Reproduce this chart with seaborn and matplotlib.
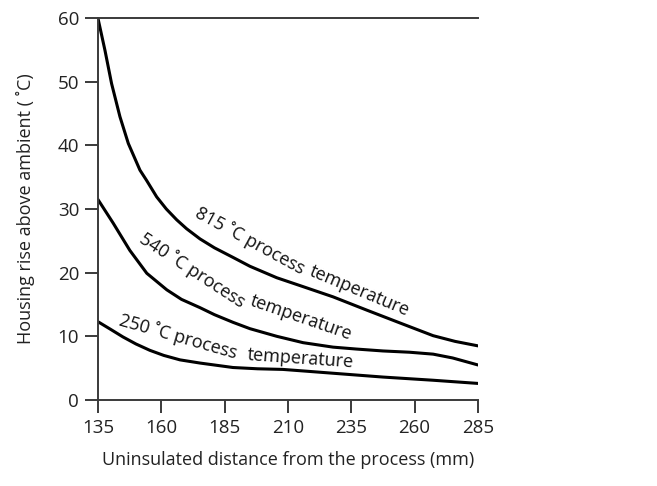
import matplotlib
matplotlib.use("Agg")
import matplotlib.pyplot as plt
import seaborn as sns
import pandas as pd

# distance from process (mm) and housing rise (deg C)
x_815 = [135, 137.8, 140.4, 143.7, 147.0, 151.6, 154.2, 158.2, 162, 166.1, 170, 175.3, 181, 188.3, 195, 205.6, 216, 227.8, 241.2, 254.2, 267.3, 276, 285]
y_815 = [60, 54.9, 49.7, 44.5, 40.3, 36.1, 34.5, 31.9, 30.0, 28.3, 26.9, 25.3, 23.9, 22.4, 21.0, 19.2, 17.8, 16.2, 14.1, 12.1, 10.1, 9.2, 8.5]

x_540 = [135, 141, 147.6, 154.3, 162.2, 168, 175.3, 181, 188.3, 195, 205.6, 216, 227.8, 237, 247.5, 258, 267.3, 275, 285]
y_540 = [31.5, 27.8, 23.5, 19.9, 17.3, 15.8, 14.5, 13.4, 12.2, 11.2, 10.0, 9.0, 8.3, 8.0, 7.7, 7.5, 7.2, 6.6, 5.5]

x_250 = [135, 140, 144.9, 150, 155.5, 161, 167.4, 175.3, 188.3, 198, 208, 218, 227.8, 247.5, 267.3, 285]
y_250 = [12.3, 11.1, 9.9, 8.8, 7.8, 7.0, 6.3, 5.8, 5.1, 4.9, 4.8, 4.5, 4.2, 3.6, 3.1, 2.6]

x_ticks = [135, 160, 185, 210, 235, 260, 285]
y_ticks = [0, 10, 20, 30, 40, 50, 60]

frames = []
for name, xs, ys in [("815", x_815, y_815), ("540", x_540, y_540), ("250", x_250, y_250)]:
    frames.append(pd.DataFrame({"dist": xs, "rise": ys, "temp": name}))
df = pd.concat(frames, ignore_index=True)

sns.set_style("white")
plt.rcParams["font.family"] = ["Open Sans", "DejaVu Sans"]

fig = plt.figure(figsize=(6.57, 4.86), dpi=100)
ax = fig.add_axes([0.149, 0.177, 0.5785, 0.786])

sns.lineplot(data=df, x="dist", y="rise", hue="temp", units="temp", estimator=None,
             palette=["black", "black", "black"], linewidth=2.2, legend=False, ax=ax)
for ln in ax.lines:
    ln.set_solid_joinstyle("round")

spine_col = "#3a3a3a"
for side in ["left", "bottom", "top"]:
    ax.spines[side].set_color(spine_col)
    ax.spines[side].set_linewidth(1.4)
ax.spines["right"].set_visible(False)

ax.set_xlim(135, 285)
ax.set_ylim(0, 60)
ax.set_xticks(x_ticks)
ax.set_yticks(y_ticks)
ax.tick_params(axis="both", direction="out", length=9.5, width=1.4, color=spine_col,
               labelsize=13.5, labelcolor="#222222", left=True, bottom=True, pad=4)

ax.set_xlabel("Uninsulated distance from the process (mm)", fontsize=13, color="#222222", labelpad=10)
ax.set_ylabel("Housing rise above ambient ( \u02daC)", fontsize=13, color="#222222", labelpad=16)

lab = dict(fontsize=13, color="#111111", ha="center", va="center", rotation_mode="anchor")
ax.text(195.0, 25.0, "815 \u02daC process", rotation=-28.5, **lab)
ax.text(238.4, 17.1, "temperature", rotation=-22.5, **lab)
ax.text(172.1, 20.4, "540 \u02daC process", rotation=-33, **lab)
ax.text(215.1, 12.9, "temperature", rotation=-19, **lab)
ax.text(166.6, 9.9, "250 \u02daC process", rotation=-16, **lab)
ax.text(215.1, 6.4, "temperature", rotation=-4, **lab)

fig.savefig("out.png", dpi=100)
